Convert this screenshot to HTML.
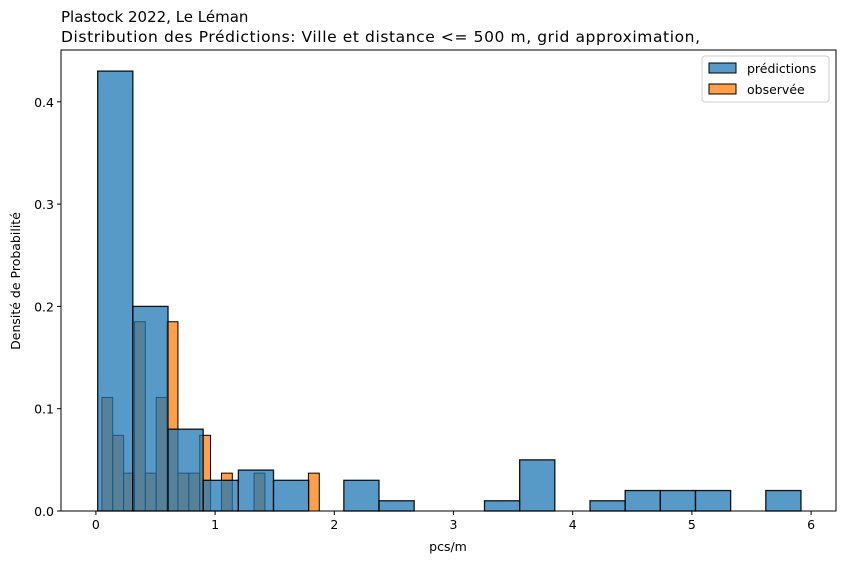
<!DOCTYPE html>
<html><head><meta charset="utf-8"><style>
body{margin:0;background:#fff;font-family:"DejaVu Sans","Liberation Sans",sans-serif}
svg text{font-family:"DejaVu Sans","Liberation Sans",sans-serif}
</style></head><body>
<svg id="chart" width="846" height="564" xmlns="http://www.w3.org/2000/svg">
<text x="61" y="22" font-size="15">Plastock 2022, Le Léman</text>
<text x="61" y="42" font-size="15.5" textLength="639" lengthAdjust="spacing">Distribution des Prédictions: Ville et distance &lt;= 500 m, grid approximation,</text>
<g id="marks"></g>
<g id="axes"></g>
<text x="448" y="551" font-size="12.5" text-anchor="middle">pcs/m</text>
<text transform="translate(20,281) rotate(-90)" font-size="12.5" text-anchor="middle">Densité de Probabilité</text>
<g>
<rect x="702" y="56" width="127" height="46" fill="#fff" stroke="#ccc" rx="3"/>
<rect x="709" y="63" width="27" height="10" fill="#1f77b4" fill-opacity="0.75" stroke="#000"/>
<text x="747" y="73" font-size="12.5">prédictions</text>
<rect x="709" y="84" width="27" height="10" fill="#ff7f0e" fill-opacity="0.75" stroke="#000"/>
<text x="747" y="94" font-size="12.5">observée</text>
</g>
</svg>
<script>
const obsStart = 0.05;
const obsWidth = 0.0912;
const obsValues = [0.111,0.074,0.037,0.185,0.037,0.111,0.185,0.037,0.037,0.074,0,0.037,0,0,0.037,0,0,0,0,0.037];
const predStart = 0.015;
const predWidth = 0.295;
const predValues = [0.43,0.20,0.08,0.03,0.04,0.03,0,0.03,0.01,0,0,0.01,0.05,0,0.01,0.02,0.02,0.02,0,0.02];
const xTicks = [0,1,2,3,4,5,6];
const yTicks = [0.0,0.1,0.2,0.3,0.4];
const yTickLabels = ["0.0","0.1","0.2","0.3","0.4"];

const L=61,R=836,T=50,B=511;
const xs=v=>95.9+v*119.2;
const ys=v=>511-v*1023;
const NS="http://www.w3.org/2000/svg";
const marks=document.getElementById('marks'), axes=document.getElementById('axes');
function mk(tag,attrs,parent){const e=document.createElementNS(NS,tag);for(const k in attrs)e.setAttribute(k,attrs[k]);parent.appendChild(e);return e;}
obsValues.forEach((v,i)=>{if(!v)return;const x0=xs(obsStart+i*obsWidth),x1=xs(obsStart+(i+1)*obsWidth);
 const r=mk('rect',{x:x0,y:ys(v),width:x1-x0,height:ys(0)-ys(v),fill:'#ff7f0e','fill-opacity':0.75,stroke:'#000','stroke-width':1},marks);
 
 });
predValues.forEach((v,i)=>{if(!v)return;const x0=xs(predStart+i*predWidth),x1=xs(predStart+(i+1)*predWidth);
 const r=mk('rect',{x:x0,y:ys(v),width:x1-x0,height:ys(0)-ys(v),fill:'#1f77b4','fill-opacity':0.75,stroke:'#000','stroke-width':1.3,'stroke-opacity':0.9},marks);
 
 });
const frame=mk('rect',{x:L,y:T,width:R-L,height:B-T,fill:'none',stroke:'#000','stroke-width':1},axes);


xTicks.forEach(t=>{const x=xs(t);mk('line',{x1:x,x2:x,y1:B,y2:B+4,stroke:'#000'},axes);
 const tx=mk('text',{x:x,y:B+18,'font-size':12.5,'text-anchor':'middle'},axes);tx.textContent=t;
 
 });
yTicks.forEach((t,i)=>{const y=ys(t);mk('line',{x1:L-4,x2:L,y1:y,y2:y,stroke:'#000'},axes);
 const tx=mk('text',{x:L-7,y:y+5,'font-size':12.5,'text-anchor':'end'},axes);tx.textContent=yTickLabels[i];
 
 });
</script>
</body></html>
